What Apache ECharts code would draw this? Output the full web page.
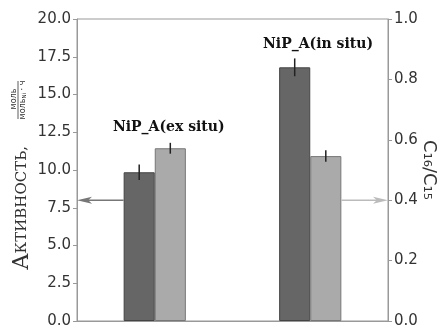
<!DOCTYPE html>
<html><head><meta charset="utf-8">
<script src="https://cdn.jsdelivr.net/npm/echarts@6/dist/echarts.min.js"></script>
<style>html,body{margin:0;padding:0;background:#fff}#c{width:441px;height:329px}</style>
</head><body><div id="c"></div>
<script>
// data
const categories = ['NiP_A(ex situ)', 'NiP_A(in situ)'];
const activity = [9.85, 16.8];          // left axis
const activityErr = [0.52, 0.59];
const ratio = [0.572, 0.546];           // right axis C16/C15
const ratioErr = [0.018, 0.019];
const groupLabels = ['NiP_A(ex situ)', 'NiP_A(in situ)'];
const groupLabelY = [12.8, 18.35];       // left-axis units
const leftArrowValue = 8.0;              // left axis
const rightArrowValue = 0.40;            // right axis
const leftTicks = [0, 20, 2.5];
const rightTicks = [0, 1, 0.2];

const chart = echarts.init(document.getElementById('c'), null, {renderer: 'canvas'});
const BW = 0.2;

function errRender(sign) {
  return function (params, api) {
    const c = api.value(0), v = api.value(1), e = api.value(2);
    const band = api.size([1, 0])[0];
    const x = api.coord([c, v])[0] + sign * band * BW / 2;
    const top = api.coord([c, v + e])[1];
    const bot = api.coord([c, v - e])[1];
    return {type: 'line', shape: {x1: x, y1: top, x2: x, y2: bot},
      style: {stroke: '#222', lineWidth: 1.5}};
  };
}
function arrowRender(side, color) {
  return function (params, api) {
    const c = api.value(0), v = api.value(1);
    const band = api.size([1, 0])[0];
    const pt = api.coord([c, v]);
    const cs = params.coordSys;
    let xs, xe;
    if (side === 'left') { xs = pt[0] - band * BW; xe = cs.x; }
    else { xs = pt[0] + band * BW; xe = cs.x + cs.width; }
    const dir = side === 'left' ? -1 : 1;
    const L = 15, H = 3.5, y = pt[1];
    return {type: 'group', children: [
      {type: 'line', shape: {x1: xs, y1: y, x2: xe - dir * L * 0.6, y2: y}, style: {stroke: color, lineWidth: 1.5}},
      {type: 'polygon', shape: {points: [[xe, y], [xe - dir * L, y - H], [xe - dir * L * 0.75, y], [xe - dir * L, y + H]]},
        style: {fill: color}}
    ]};
  };
}
function labelRender(params, api) {
  const c = api.value(0), v = api.value(1);
  const band = api.size([1, 0])[0];
  const pt = api.coord([c, v]);
  const shift = c === 0 ? band * 0.09 : band * 0.05;
  return {type: 'text', x: pt[0] + shift, y: pt[1],
    style: {text: groupLabels[params.dataIndex], align: 'center', verticalAlign: 'middle',
      fontFamily: 'DejaVu Serif', fontWeight: 'bold', fontSize: 14, fill: '#111'}};
}

const axisCommon = {
  axisLine: {show: true, lineStyle: {color: '#999', width: 1}},
  axisTick: {show: true, inside: false, length: 4, lineStyle: {color: '#999'}},
  splitLine: {show: false},
  axisLabel: {color: '#333', fontFamily: 'DejaVu Sans', fontSize: 15, margin: 6}
};

chart.setOption({
  animation: false,
  grid: {left: 77, right: 53, top: 19, bottom: 8, show: true, borderColor: '#999', borderWidth: 1,
    containLabel: false, outerBoundsMode: 'none'},
  xAxis: {type: 'category', data: categories, axisLabel: {show: false}, axisTick: {show: false},
    axisLine: {show: true, lineStyle: {color: '#999'}}},
  yAxis: [
    Object.assign({type: 'value', min: leftTicks[0], max: leftTicks[1], interval: leftTicks[2], position: 'left'}, axisCommon,
      {axisLabel: Object.assign({}, axisCommon.axisLabel, {formatter: v => v.toFixed(1)})}),
    Object.assign({type: 'value', min: rightTicks[0], max: rightTicks[1], interval: rightTicks[2], position: 'right',
      name: 'C₁₆/C₁₅', nameLocation: 'middle', nameRotate: -90, nameGap: 32, nameMoveOverlap: false,
      nameTextStyle: {fontFamily: 'DejaVu Sans', fontSize: 18, color: '#333'}}, axisCommon,
      {axisLabel: Object.assign({}, axisCommon.axisLabel, {formatter: v => v.toFixed(1)})})
  ],
  series: [
    {type: 'bar', yAxisIndex: 0, data: activity, barWidth: (BW * 100) + '%', barGap: '0%',
      itemStyle: {color: '#666666', borderColor: '#444', borderWidth: 1}},
    {type: 'bar', yAxisIndex: 1, data: ratio, barWidth: (BW * 100) + '%', barGap: '0%',
      itemStyle: {color: '#aaaaaa', borderColor: '#777', borderWidth: 1}},
    {type: 'custom', yAxisIndex: 0, renderItem: errRender(-1), z: 5,
      data: activity.map((v, i) => [i, v, activityErr[i]])},
    {type: 'custom', yAxisIndex: 1, renderItem: errRender(1), z: 5,
      data: ratio.map((v, i) => [i, v, ratioErr[i]])},
    {type: 'custom', yAxisIndex: 0, renderItem: arrowRender('left', '#777'), z: 4, data: [[0, leftArrowValue]]},
    {type: 'custom', yAxisIndex: 1, renderItem: arrowRender('right', '#bbb'), z: 4, data: [[1, rightArrowValue]]},
    {type: 'custom', yAxisIndex: 0, renderItem: labelRender, z: 6,
      data: groupLabelY.map((v, i) => [i, v])}
  ],
  graphic: [
    {type: 'text', x: 22, y: 208, rotation: Math.PI / 2,
      style: {text: '{a|А}{b|КТИВНОСТЬ,}', align: 'center', verticalAlign: 'middle',
        rich: {a: {fontSize: 22, fontFamily: 'DejaVu Serif', fill: '#333'},
               b: {fontSize: 15, fontFamily: 'DejaVu Serif', fill: '#333'}}}},
    {type: 'text', x: 13.5, y: 99, rotation: Math.PI / 2,
      style: {text: 'моль', align: 'center', verticalAlign: 'middle', fontSize: 8, fontFamily: 'DejaVu Sans', fill: '#333'}},
    {type: 'line', shape: {x1: 18, y1: 81, x2: 18, y2: 119}, style: {stroke: '#333', lineWidth: 0.8}},
    {type: 'text', x: 23, y: 100, rotation: Math.PI / 2,
      style: {text: '{t|моль}{s|Ni}{t| · ч}', align: 'center', verticalAlign: 'middle',
        rich: {t: {fontSize: 8, fontFamily: 'DejaVu Sans', fill: '#333', lineHeight: 10},
               s: {fontSize: 5.5, fontFamily: 'DejaVu Sans', fill: '#333', lineHeight: 10, verticalAlign: 'bottom'}}}}
  ]
});
</script></body></html>
